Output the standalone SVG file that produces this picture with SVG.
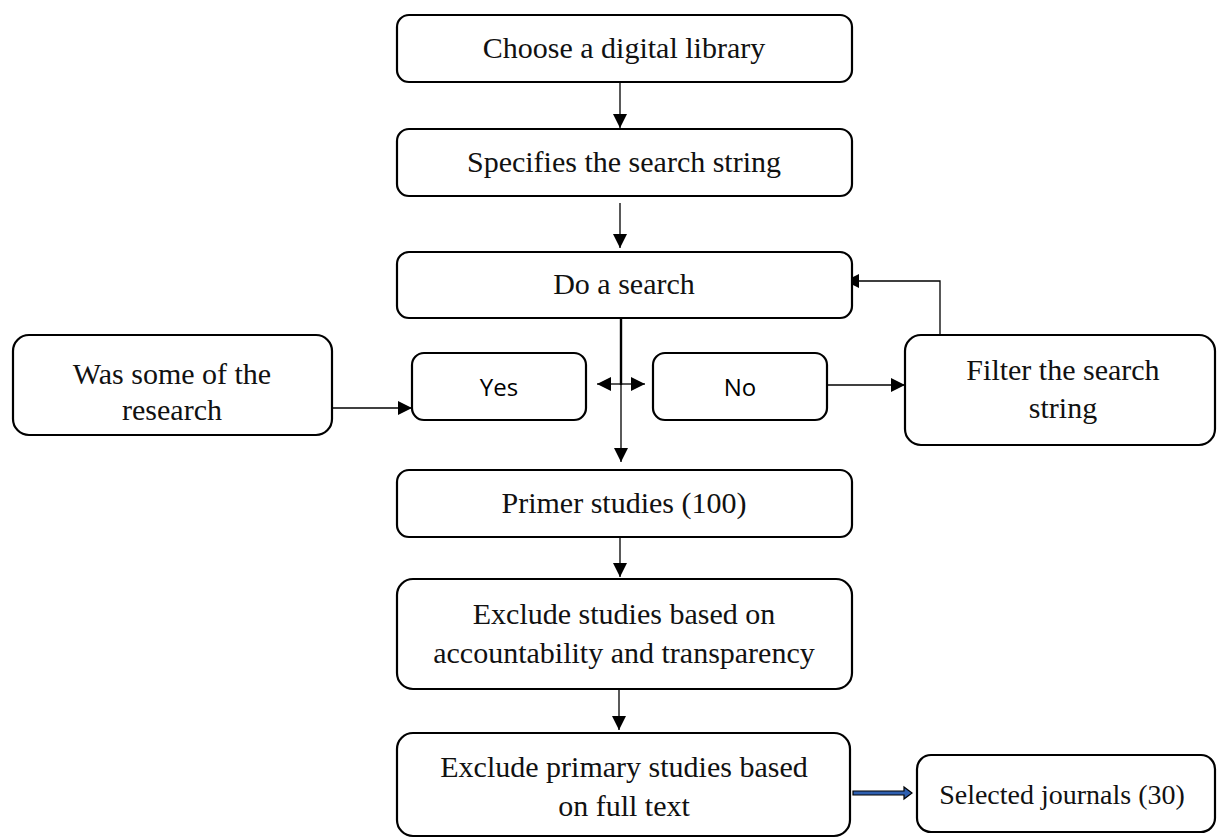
<svg xmlns="http://www.w3.org/2000/svg" width="1218" height="838" viewBox="0 0 1218 838">
<defs>
<marker id="ah2" viewBox="0 0 14 14" refX="14" refY="7" markerWidth="14" markerHeight="14" markerUnits="userSpaceOnUse" orient="auto-start-reverse">
<path d="M0,0 L14,7 L0,14 Z" fill="#000"/>
</marker>
<style>
.box{fill:#fff;stroke:#000;stroke-width:2.2}
.t{font-family:"Liberation Serif","Times New Roman",serif;font-size:30px;fill:#111;text-anchor:middle}
.s{font-family:"Open Sans","Liberation Sans",sans-serif;font-size:24px;fill:#000;text-anchor:middle}
.c{stroke:#000;stroke-width:1.3;fill:none}
</style>
</defs>
<rect width="1218" height="838" fill="#fff"/>
<g id="connectors">
<line class="c" x1="620" y1="82" x2="620" y2="128" marker-end="url(#ah2)"/>
<line class="c" x1="620" y1="203" x2="620" y2="248" marker-end="url(#ah2)"/>
<line x1="621" y1="318" x2="621" y2="385" stroke="#000" stroke-width="2.4"/>
<line class="c" x1="621" y1="384" x2="621" y2="462" marker-end="url(#ah2)"/>
<line class="c" x1="621" y1="384" x2="597" y2="384" marker-end="url(#ah2)"/>
<line class="c" x1="621" y1="384" x2="645" y2="384" marker-end="url(#ah2)"/>
<line class="c" x1="332" y1="408" x2="412" y2="408" marker-end="url(#ah2)"/>
<line class="c" x1="827" y1="385" x2="905" y2="385" marker-end="url(#ah2)"/>
<polyline class="c" points="940,335 940,281 845,281" marker-end="url(#ah2)"/>
<line class="c" x1="620" y1="530" x2="620" y2="577" marker-end="url(#ah2)"/>
<line class="c" x1="619" y1="685" x2="619" y2="730" marker-end="url(#ah2)"/>
<path d="M853,791 L904,791 L904,787 L912,793 L904,799 L904,795 L853,795 Z" fill="#2e5fb0" stroke="#000" stroke-width="1.2"/>
</g>
<g id="n1"><rect class="box" x="397" y="15" width="455" height="67" rx="12"/><text class="t" x="624" y="58">Choose a digital library</text></g>
<g id="n2"><rect class="box" x="397" y="129" width="455" height="67" rx="12"/><text class="t" x="624" y="172">Specifies the search string</text></g>
<g id="n3"><rect class="box" x="397" y="252" width="455" height="66" rx="12"/><text class="t" x="624" y="294">Do a search</text></g>
<g id="n4"><rect class="box" x="13" y="335" width="319" height="100" rx="16"/><text class="t" x="172" y="384">Was some of the</text><text class="t" x="172" y="420">research</text></g>
<g id="n5"><rect class="box" x="412" y="353" width="174" height="67" rx="12"/><text class="s" x="499" y="396">Yes</text></g>
<g id="n6"><rect class="box" x="653" y="353" width="174" height="67" rx="12"/><text class="s" x="740" y="396">No</text></g>
<g id="n7"><rect class="box" x="905" y="335" width="310" height="110" rx="16"/><text class="t" x="1063" y="380">Filter the search</text><text class="t" x="1063" y="418">string</text></g>
<g id="n8"><rect class="box" x="397" y="470" width="455" height="67" rx="12"/><text class="t" x="624" y="513">Primer studies (100)</text></g>
<g id="n9"><rect class="box" x="397" y="579" width="455" height="110" rx="16"/><text class="t" x="624" y="624">Exclude studies based on</text><text class="t" x="624" y="663">accountability and transparency</text></g>
<g id="n10"><rect class="box" x="397" y="733" width="453" height="103" rx="16"/><text class="t" x="624" y="777">Exclude primary studies based</text><text class="t" x="624" y="816">on full text</text></g>
<g id="n11"><rect class="box" x="917" y="755" width="298" height="77" rx="14"/><text class="t" x="1062" y="804" style="font-size:28px">Selected journals (30)</text></g>
</svg>
